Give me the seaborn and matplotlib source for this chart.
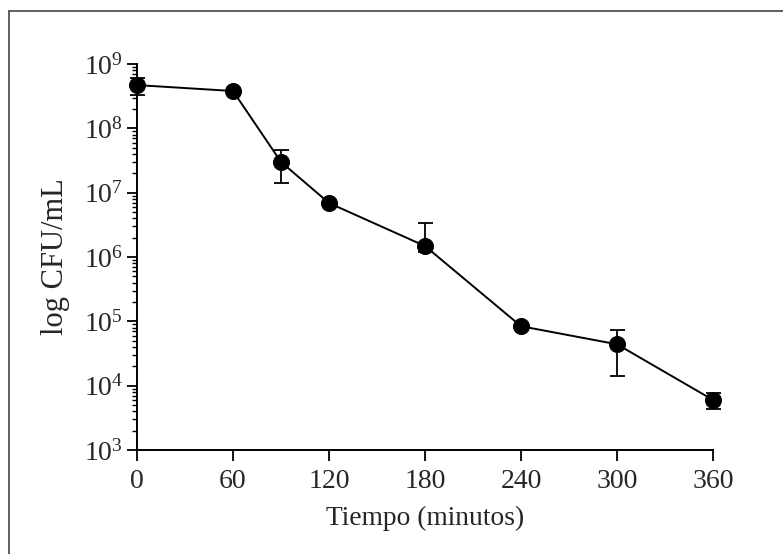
import numpy as np
import pandas as pd
import matplotlib
matplotlib.use('Agg')
import matplotlib.pyplot as plt
import matplotlib.ticker as mticker
from matplotlib.lines import Line2D
import seaborn as sns

# values (CFU/mL)
tiempo = [0, 60, 90, 120, 180, 240, 300, 360]
cfu = [4.7e8, 3.8e8, 3.0e7, 6.9e6, 1.48e6, 8.4e4, 4.4e4, 6.0e3]
err_low = [1.4e8, 0, 1.6e7, 0, 0.3e6, 0, 3.0e4, 1.6e3]
err_high = [1.4e8, 0, 1.6e7, 0, 1.9e6, 0, 3.0e4, 1.6e3]
x_ticks = [0, 60, 120, 180, 240, 300, 360]

sns.set_style('ticks')
plt.rcParams['font.family'] = ['Liberation Serif', 'DejaVu Serif']
plt.rcParams['mathtext.fontset'] = 'custom'
plt.rcParams['mathtext.rm'] = 'Liberation Serif'

df = pd.DataFrame({'Tiempo': tiempo, 'CFU': cfu})

fig = plt.figure(figsize=(7.83, 5.54), dpi=100)
ax = fig.add_axes([0.175, 0.1877, 0.7356, 0.6968])

eb = ax.errorbar(tiempo, cfu, yerr=[err_low, err_high], fmt='none', ecolor='black',
                 elinewidth=1.3, capsize=5.4, capthick=1.3, zorder=2)
for art in eb.lines[1] + eb.lines[2]:
    art.set_clip_on(False)
sns.lineplot(data=df, x='Tiempo', y='CFU', ax=ax, color='black', linewidth=1.4,
             marker='o', markersize=11.5, markeredgecolor='black', zorder=3,
             clip_on=False)

ax.set_yscale('log')
ax.set_ylim(1e3, 1e9)
ax.set_xlim(0, 360)
ax.set_xticks(x_ticks)
ax.yaxis.set_major_locator(mticker.LogLocator(base=10, numticks=10))
ax.yaxis.set_minor_locator(mticker.LogLocator(base=10, subs=np.arange(2, 10), numticks=10))
ax.yaxis.set_minor_formatter(mticker.NullFormatter())

ax.set_xlabel('Tiempo (minutos)', fontsize=19.8, labelpad=8)
ax.set_ylabel('log CFU/mL', fontsize=22, labelpad=10)
ax.tick_params(axis='x', which='major', labelsize=20, length=8, width=1.3, pad=6, color='black')
ax.tick_params(axis='y', which='major', labelsize=20, length=7, width=1.3, pad=3, color='black')
ax.tick_params(axis='y', which='minor', length=3.5, width=1.0, color='black')

sns.despine(ax=ax)
for side in ['left', 'bottom']:
    ax.spines[side].set_linewidth(1.4)
    ax.spines[side].set_color('black')

# frame around the picture (only top and left edges visible)
fig.add_artist(Line2D([9 / 783, 1], [1 - 11 / 554, 1 - 11 / 554], color='#444444', lw=1.2))
fig.add_artist(Line2D([9 / 783, 9 / 783], [0, 1 - 11 / 554], color='#444444', lw=1.2))

fig.savefig('out.png', dpi=100)
